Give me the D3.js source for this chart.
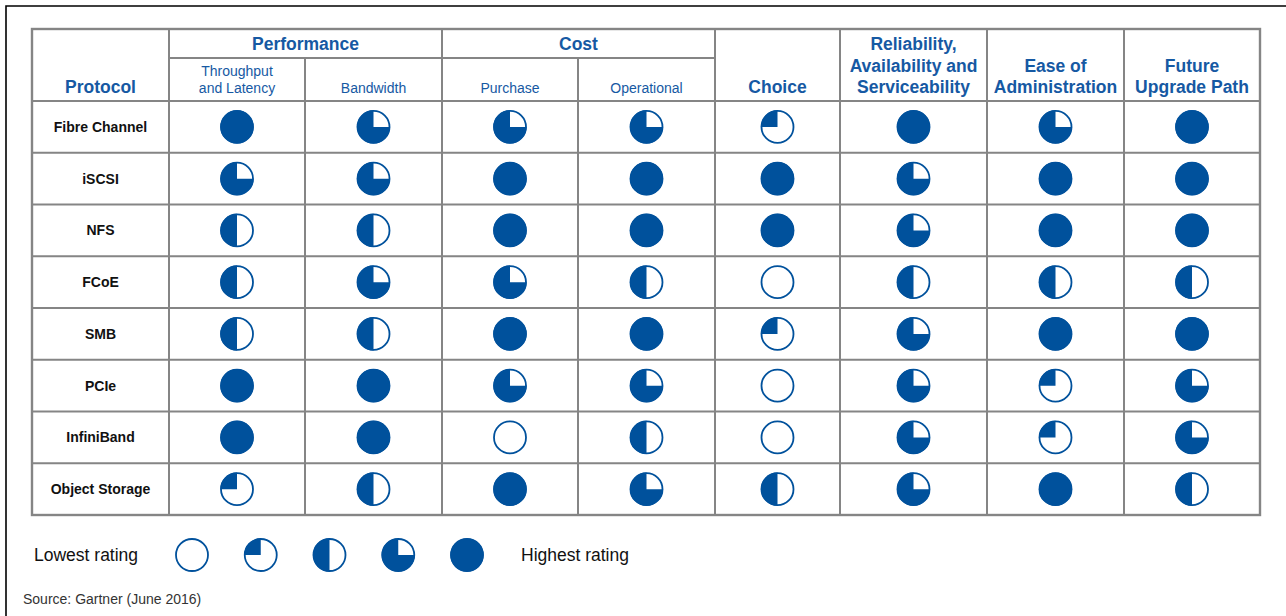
<!DOCTYPE html>
<html>
<head>
<meta charset="utf-8">
<script src="https://cdn.jsdelivr.net/npm/d3@7"></script>
<style>
  body { margin: 0; background: #fff; }
  text { font-family: "Liberation Sans", Arial, sans-serif; }
</style>
</head>
<body>
<svg id="chart"></svg>
<script>
// rating = number of filled quarters (0 = empty, 4 = full)
let protocols = ["Fibre Channel", "iSCSI", "NFS", "FCoE", "SMB", "PCIe", "InfiniBand", "Object Storage"];
let criteria = ["throughput", "bandwidth", "purchase", "operational", "choice", "ras", "ease", "future"];
let groupLabels = ["Performance", "Cost"];
let subLabels = [["Throughput", "and Latency"], ["Bandwidth"], ["Purchase"], ["Operational"]];
let mainLabels = [["Choice"], ["Reliability,", "Availability and", "Serviceability"], ["Ease of", "Administration"], ["Future", "Upgrade Path"]];

let throughput  = [4, 3, 2, 2, 2, 4, 4, 1];
let bandwidth   = [3, 3, 2, 3, 2, 4, 4, 2];
let purchase    = [3, 4, 4, 3, 4, 3, 0, 4];
let operational = [3, 4, 4, 2, 4, 3, 2, 3];
let choice      = [1, 4, 4, 0, 1, 0, 0, 2];
let ras         = [4, 3, 3, 2, 3, 3, 3, 3];
let ease        = [3, 4, 4, 2, 4, 1, 1, 4];
let future      = [4, 4, 4, 2, 4, 3, 3, 2];

let legendRatings = [0, 1, 2, 3, 4];
let legendLow = "Lowest rating";
let legendHigh = "Highest rating";
let source = "Source: Gartner (June 2016)";

let ratings = {throughput, bandwidth, purchase, operational, choice, ras, ease, future};

let W = 1286, H = 616;
let blue = "#00519c", textBlue = "#1659a3", grid = "#858585";
let colWidths = [137, 136, 137, 136, 137, 125, 147, 137, 136];
let tableLeft = 32, tableTop = 29, groupBottom = 58, headBottom = 101, tableBottom = 515;
let R = 16;

let svg = d3.select("#chart").attr("width", W).attr("height", H);

let edges = d3.cumsum([tableLeft].concat(colWidths));
edges = [tableLeft].concat(Array.from(edges).slice(1));
let tableRight = edges[edges.length - 1];

let colKeys = ["protocol"].concat(criteria);
let xLeft = d3.scaleOrdinal().domain(colKeys).range(edges.slice(0, -1));
let xRight = d3.scaleOrdinal().domain(colKeys).range(edges.slice(1));
let xMid = k => (xLeft(k) + xRight(k)) / 2;

let y = d3.scaleBand().domain(protocols).range([headBottom, tableBottom]);
let angle = d3.scaleLinear().domain([0, 4]).range([0, 2 * Math.PI]);

// outer frame (top + left only)
svg.append("path")
  .attr("d", `M6,${H} V6 H${W}`)
  .attr("fill", "none").attr("stroke", "#000").attr("stroke-width", 1.6);

let g = svg.append("g");

function drawSymbol(sel, rating, cx, cy) {
  let s = sel.append("g").attr("transform", `translate(${cx},${cy})`);
  s.append("circle").attr("r", R).attr("fill", "#fff")
    .attr("stroke", blue).attr("stroke-width", 1.8);
  if (rating > 0) {
    let arc = d3.arc().innerRadius(0).outerRadius(R + 0.6)
      .startAngle(2 * Math.PI - angle(rating)).endAngle(2 * Math.PI);
    s.append("path").attr("d", arc()).attr("fill", blue);
  }
}

// grid lines
let lines = g.append("g").attr("stroke", grid).attr("stroke-width", 2);
// horizontal row lines
protocols.forEach(p => {
  lines.append("line").attr("x1", tableLeft).attr("x2", tableRight)
    .attr("y1", y(p)).attr("y2", y(p));
});
lines.append("line").attr("x1", xLeft("throughput")).attr("x2", xRight("operational"))
  .attr("y1", groupBottom).attr("y2", groupBottom);
// vertical lines
edges.slice(1, -1).forEach((x, i) => {
  let key = colKeys[i + 1];
  let top = (key === "bandwidth" || key === "operational") ? groupBottom : tableTop;
  lines.append("line").attr("x1", x).attr("x2", x).attr("y1", top).attr("y2", tableBottom);
});
g.append("rect")
  .attr("x", tableLeft).attr("y", tableTop)
  .attr("width", tableRight - tableLeft).attr("height", tableBottom - tableTop)
  .attr("fill", "none").attr("stroke", grid).attr("stroke-width", 2.4);

// header text
function multiLine(sel, linesArr, x, lastBaseline, lh, size, weight) {
  let t = sel.append("text").attr("text-anchor", "middle")
    .attr("fill", textBlue).attr("font-size", size).attr("font-weight", weight);
  linesArr.forEach((l, i) => {
    t.append("tspan").attr("x", x)
      .attr("y", lastBaseline - (linesArr.length - 1 - i) * lh).text(l);
  });
}

multiLine(g, ["Protocol"], xMid("protocol"), 93, 0, 17.5, "bold");
multiLine(g, [groupLabels[0]], (xLeft("throughput") + xRight("bandwidth")) / 2, 50, 0, 17.5, "bold");
multiLine(g, [groupLabels[1]], (xLeft("purchase") + xRight("operational")) / 2, 50, 0, 17.5, "bold");
["throughput", "bandwidth", "purchase", "operational"].forEach((k, i) => {
  multiLine(g, subLabels[i], xMid(k), 93, 17.5, 14, "normal");
});
["choice", "ras", "ease", "future"].forEach((k, i) => {
  multiLine(g, mainLabels[i], xMid(k), 93, 21.5, 17.5, "bold");
});

// row labels
g.selectAll("text.row").data(protocols).enter().append("text")
  .attr("class", "row")
  .attr("x", xMid("protocol"))
  .attr("y", d => y(d) + y.bandwidth() / 2 + 5)
  .attr("text-anchor", "middle").attr("font-size", 14).attr("font-weight", "bold")
  .attr("fill", "#111").text(d => d);

// symbols
criteria.forEach(k => {
  protocols.forEach((p, i) => {
    drawSymbol(g, ratings[k][i], xMid(k), y(p) + y.bandwidth() / 2);
  });
});

// legend
let lx = d3.scalePoint().domain(legendRatings).range([192, 467]);
legendRatings.forEach(r => drawSymbol(svg, r, lx(r), 555));
svg.append("text").attr("x", 34).attr("y", 561).attr("font-size", 17.5)
  .attr("fill", "#111").text(legendLow);
svg.append("text").attr("x", 521).attr("y", 561).attr("font-size", 17.5)
  .attr("fill", "#111").text(legendHigh);

svg.append("text").attr("x", 23).attr("y", 604).attr("font-size", 14)
  .attr("fill", "#333").text(source);
</script>
</body>
</html>
